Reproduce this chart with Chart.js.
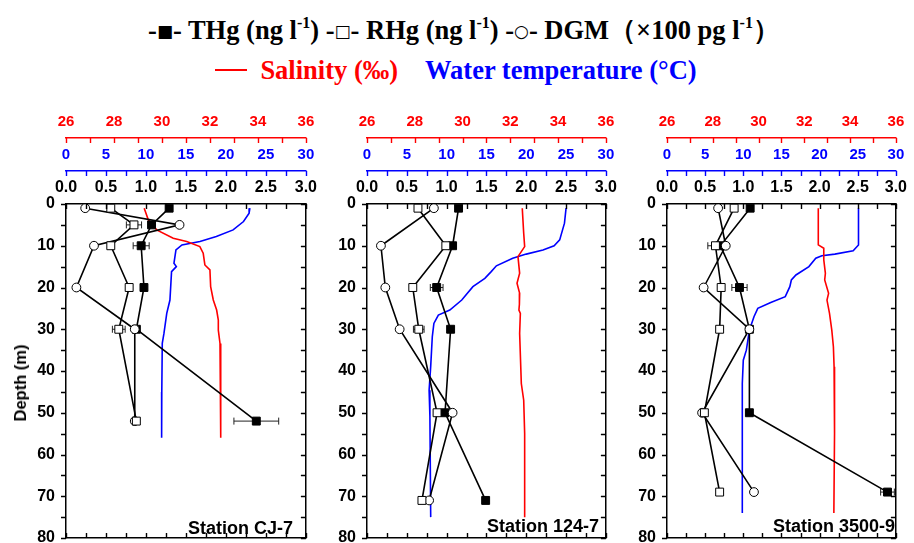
<!DOCTYPE html>
<html><head><meta charset="utf-8">
<script src="https://cdn.jsdelivr.net/npm/chart.js@4.4.0/dist/chart.umd.min.js"></script>
<style>
html,body{margin:0;padding:0;background:#fff;width:914px;height:543px;overflow:hidden;position:relative;}
canvas{position:absolute;}
.leg{position:absolute;left:0;width:914px;text-align:center;font-family:"Liberation Serif","Times New Roman",serif;font-weight:bold;white-space:nowrap;line-height:34px;font-size:26.5px;}
.leg sup{font-size:16px;line-height:0;vertical-align:11px;}
.sym{font-size:17px;font-family:"DejaVu Sans",sans-serif;vertical-align:2px;}
.st{position:absolute;font-family:"Liberation Sans",Arial,sans-serif;font-weight:bold;font-size:18px;line-height:20px;text-align:right;white-space:nowrap;}
.dl{position:absolute;font-family:"Liberation Sans",Arial,sans-serif;font-weight:bold;font-size:16.5px;line-height:20px;white-space:nowrap;transform:translate(-50%,-50%) rotate(-90deg);}
</style></head><body>
<div class="leg" style="top:13px;left:7px;color:#000">-<span class="sym">■</span>- THg (ng l<sup>-1</sup>) -<span class="sym">□</span>- RHg (ng l<sup>-1</sup>) -<span class="sym">○</span>- DGM（×100 pg l<sup>-1</sup>）</div>
<div class="leg" style="top:53px;left:-1px"><span style="color:#f00"><span style="display:inline-block;width:32px;border-top:2px solid #f00;vertical-align:8px;margin-right:13px"></span>Salinity (‰)</span><span style="display:inline-block;width:27px"></span><span style="color:#00f">Water temperature (°C)</span></div>
<canvas id="c1" width="324" height="463" style="left:0px;top:100px;width:324px;height:463px"></canvas>
<canvas id="c2" width="314" height="463" style="left:310px;top:100px;width:314px;height:463px"></canvas>
<canvas id="c3" width="300" height="463" style="left:614px;top:100px;width:300px;height:463px"></canvas>
<div class="st" style="right:621px;top:518px">Station CJ-7</div>
<div class="st" style="right:315px;top:516px">Station 124-7</div>
<div class="st" style="right:19px;top:516px">Station 3500-9</div>
<div class="dl" style="left:20px;top:383px">Depth (m)</div>
<script>
// ---------- Station CJ-7 ----------
const depth1 = [1, 5, 10, 20, 30, 52];
const thg1 = [1.29, 1.07, 0.94, 0.975, 0.88, 2.38];
const thgErr1 = [0, 0, 0.1, 0, 0, 0.28];
const rhg1 = [0.56, 0.85, 0.56, 0.79, 0.66, 0.88];
const rhgErr1 = [0, 0.095, 0, 0, 0.08, 0];
const dgm1 = [0.24, 1.42, 0.35, 0.13, 0.86, 0.86];
const salDepth1 = [1, 3.8, 6.2, 8.2, 9.0, 10.2, 11.8, 14.6, 15.8, 19.8, 23.0, 25.4, 27.8, 30.2, 33.4, 45, 56];
const sal1 = [29.26, 29.43, 29.78, 30.47, 31.03, 31.58, 31.72, 31.79, 32.0, 32.03, 32.14, 32.28, 32.35, 32.35, 32.42, 32.45, 32.45];
const tempDepth1 = [1, 2.2, 4.2, 6.2, 7.8, 9.0, 9.8, 11.0, 14.2, 15.0, 16.2, 23.0, 26.2, 31.0, 33.4, 45, 56];
const temp1 = [23.0, 22.9, 22.2, 20.9, 18.8, 16.75, 14.5, 13.75, 13.5, 13.8, 13.2, 13.0, 12.6, 12.25, 12.04, 11.98, 11.96];

// ---------- Station 124-7 ----------
const depth2 = [1, 10, 20, 30, 50, 71];
const thg2 = [1.15, 1.075, 0.875, 1.05, 0.98, 1.49];
const thgErr2 = [0, 0, 0.08, 0, 0, 0];
const rhg2 = [0.64, 0.99, 0.575, 0.65, 0.88, 0.69];
const rhgErr2 = [0, 0, 0, 0.067, 0, 0];
const dgm2 = [0.84, 0.175, 0.23, 0.41, 1.075, 0.78];
const salDepth2 = [1, 7, 10.2, 12.6, 16.6, 19, 21.4, 24, 25.4, 26.2, 31, 43, 47, 55, 75];
const sal2 = [32.5, 32.56, 32.6, 32.32, 32.39, 32.28, 32.39, 32.38, 32.36, 32.42, 32.39, 32.46, 32.56, 32.6, 32.6];
const tempDepth2 = [1, 4.6, 8.6, 10, 11, 12, 13, 14.8, 16.2, 17.8, 19.8, 23, 25.4, 26.6, 28.6, 31.8, 38.9, 44.6, 50.9, 75];
const temp2 = [25, 24.8, 24.2, 23.5, 22.1, 20.0, 18.3, 16.25, 15.6, 14.8, 13.3, 11.9, 10.4, 8.96, 8.4, 8.2, 8.0, 7.8, 7.9, 8.0];

// ---------- Station 3500-9 ----------
const depth3 = [1, 10, 20, 30, 50, 69];
const thg3 = [1.09, 0.70, 0.95, 1.08, 1.08, 2.89];
const thgErr3 = [0, 0, 0.1, 0, 0, 0.09];
const rhg3 = [0.88, 0.635, 0.71, 0.69, 0.49, 0.69];
const rhgErr3 = [0, 0.1, 0, 0, 0, 0];
const dgm3 = [0.67, 0.77, 0.48, 1.08, 0.46, 1.14];
const salDepth3 = [1, 9.8, 10.6, 13.4, 16.6, 18.2, 21.4, 23, 26.2, 30.2, 34.2, 39, 54.9, 74];
const sal3 = [32.61, 32.61, 32.85, 32.85, 32.92, 32.89, 33.06, 32.99, 33.1, 33.2, 33.27, 33.3, 33.32, 33.29];
const tempDepth3 = [1, 9.8, 11.2, 12, 12.4, 13, 15, 17, 18.2, 19.8, 22.2, 23.6, 25, 27, 30.2, 35, 37.4, 43, 74];
const temp3 = [25.1, 25.1, 24.4, 22.0, 20.3, 19.5, 18.6, 16.9, 16.3, 16.1, 15.5, 13.6, 11.9, 11.4, 10.8, 10.4, 10.0, 9.87, 9.87];

// ---------- axes ----------
const salRange = [26, 36], salStep = 2, salMinor = 1;
const tempRange = [0, 30], tempStep = 5, tempMinor = 2.5;
const concRange = [0, 3], concStep = 0.5, concMinor = 0.25;
const depthRange = [0, 80], depthStep = 10, depthMinor = 5;

const SANS = '"Liberation Sans", Arial, sans-serif';

function pts(xs, ys) { return xs.map((v, i) => ({x: v, y: ys[i]})); }

const tickPlugin = {
  id: 'minorTicks',
  afterDraw(chart) {
    const ctx = chart.ctx, a = chart.chartArea, s = chart.scales, L = 5;
    ctx.save();
    ctx.lineWidth = 1.4;
    function h(scale, r, step, y0, dir, color) {
      ctx.strokeStyle = color; ctx.beginPath();
      for (let v = r[0]; v <= r[1] + 1e-9; v += step) {
        const x = Math.round(scale.getPixelForValue(v)) + 0.5;
        ctx.moveTo(x, y0); ctx.lineTo(x, y0 + dir * L);
      }
      ctx.stroke();
    }
    function v(scale, r, step, x0, dir, color) {
      ctx.strokeStyle = color; ctx.beginPath();
      for (let d = r[0]; d <= r[1] + 1e-9; d += step) {
        const y = Math.round(scale.getPixelForValue(d)) + 0.5;
        ctx.moveTo(x0, y); ctx.lineTo(x0 + dir * L, y);
      }
      ctx.stroke();
    }
    h(s.xs, salRange, salMinor, s.xs.bottom, 1, '#f00');
    h(s.xt, tempRange, tempMinor, s.xt.bottom, 1, '#00f');
    h(s.x, concRange, concMinor, a.top, 1, '#000');
    h(s.x, concRange, concMinor, a.bottom, -1, '#000');
    v(s.y, depthRange, depthMinor, a.left, -1, '#000');
    v(s.y, depthRange, depthMinor, a.right, -1, '#000');
    ctx.restore();
  }
};

const errPlugin = {
  id: 'errBars',
  beforeDatasetsDraw(chart) {
    const ctx = chart.ctx;
    ctx.save();
    ctx.strokeStyle = '#222'; ctx.lineWidth = 1;
    chart.data.datasets.forEach((ds, i) => {
      if (!ds.errors) return;
      const meta = chart.getDatasetMeta(i);
      const xs = chart.scales[ds.xAxisID];
      ds.errors.forEach((e, j) => {
        if (!e) return;
        const y = meta.data[j].y;
        const x1 = xs.getPixelForValue(ds.data[j].x - e);
        const x2 = xs.getPixelForValue(ds.data[j].x + e);
        ctx.beginPath();
        ctx.moveTo(x1, y); ctx.lineTo(x2, y);
        ctx.moveTo(x1, y - 3.5); ctx.lineTo(x1, y + 3.5);
        ctx.moveTo(x2, y - 3.5); ctx.lineTo(x2, y + 3.5);
        ctx.stroke();
      });
    });
    ctx.restore();
  }
};

function topAxis(range, step, color, weight, height, size, fmt) {
  return {
    type: 'linear', position: 'top', min: range[0], max: range[1], weight: weight,
    ticks: {stepSize: step, color: color, padding: 7, autoSkip: false, maxRotation: 0,
            font: {family: SANS, size: size, weight: 'bold'}, callback: fmt || (v => v)},
    grid: {drawOnChartArea: false, drawTicks: false, color: color, lineWidth: 1.5},
    border: {display: true, color: color, width: 1.5},
    afterFit: sc => { sc.height = height; }
  };
}

function makePanel(id, yW, rW, depth, thg, thgErr, rhg, rhgErr, dgm, salD, sal, tD, temp) {
  const lineBase = {showLine: true, borderColor: '#000', borderWidth: 1.6, pointBorderColor: '#000', pointBorderWidth: 1, xAxisID: 'x', yAxisID: 'y'};
  new Chart(document.getElementById(id), {
    type: 'scatter',
    data: {
      datasets: [
        Object.assign({}, lineBase, {label: 'RHg', data: pts(rhg, depth), errors: rhgErr, pointStyle: 'rect', pointRadius: 5.6, pointBackgroundColor: '#fff'}),
        Object.assign({}, lineBase, {label: 'DGM', data: pts(dgm, depth), pointStyle: 'circle', pointRadius: 4.4, pointBackgroundColor: '#fff'}),
        Object.assign({}, lineBase, {label: 'THg', data: pts(thg, depth), errors: thgErr, pointStyle: 'rect', pointRadius: 5.6, pointBackgroundColor: '#000'}),
        {label: 'Salinity', data: pts(sal, salD), showLine: true, borderColor: '#f00', borderWidth: 1.6, pointRadius: 0, xAxisID: 'xs', yAxisID: 'y'},
        {label: 'Temperature', data: pts(temp, tD), showLine: true, borderColor: '#00f', borderWidth: 1.6, pointRadius: 0, xAxisID: 'xt', yAxisID: 'y'}
      ]
    },
    options: {
      responsive: false, animation: false,
      layout: {padding: 0, autoPadding: false},
      plugins: {legend: {display: false}, tooltip: {enabled: false}},
      scales: {
        y: {type: 'linear', position: 'left', reverse: true, min: depthRange[0], max: depthRange[1],
            ticks: {stepSize: depthStep, color: '#000', padding: 11, autoSkip: false, font: {family: SANS, size: 16, weight: 'bold'}},
            grid: {drawOnChartArea: false, drawTicks: false, color: '#000', lineWidth: 1.5},
            border: {display: true, color: '#000', width: 1.5},
            afterFit: sc => { sc.width = yW; }},
        yr: {type: 'linear', position: 'right', reverse: true, min: depthRange[0], max: depthRange[1],
            ticks: {display: false},
            grid: {drawOnChartArea: false, drawTicks: false, color: '#000', lineWidth: 1.5},
            border: {display: true, color: '#000', width: 1.5},
            afterFit: sc => { sc.width = rW; }},
        xs: topAxis(salRange, salStep, '#f00', 3, 38, 15),
        xt: topAxis(tempRange, tempStep, '#00f', 2, 33, 15),
        x: topAxis(concRange, concStep, '#000', 1, 33, 16, v => Number(v).toFixed(1)),
        xb: {type: 'linear', position: 'bottom', min: concRange[0], max: concRange[1],
            ticks: {display: false},
            grid: {drawOnChartArea: false, drawTicks: false, color: '#000', lineWidth: 1.5},
            border: {display: true, color: '#000', width: 1.5},
            afterFit: sc => { sc.height = 25; }}
      }
    },
    plugins: [errPlugin, tickPlugin]
  });
}

makePanel('c1', 66, 18, depth1, thg1, thgErr1, rhg1, rhgErr1, dgm1, salDepth1, sal1, tempDepth1, temp1);
makePanel('c2', 57, 17, depth2, thg2, thgErr2, rhg2, rhgErr2, dgm2, salDepth2, sal2, tempDepth2, temp2);
makePanel('c3', 53, 11, depth3, thg3, thgErr3, rhg3, rhgErr3, dgm3, salDepth3, sal3, tempDepth3, temp3);
</script>
</body></html>
